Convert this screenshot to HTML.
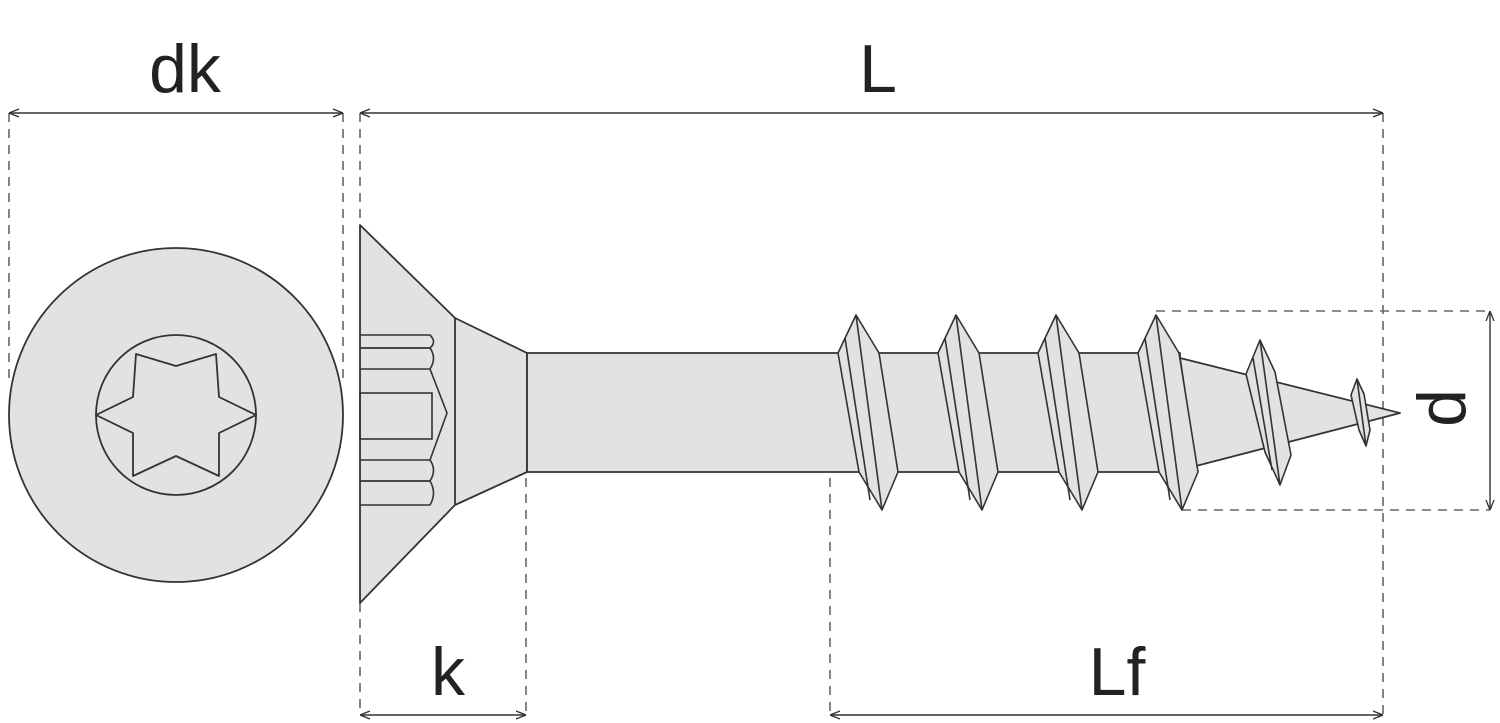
<!DOCTYPE html>
<html><head><meta charset="utf-8"><style>
html,body{margin:0;padding:0;background:#fff;}
svg{display:block;}
text{font-family:"Liberation Sans",sans-serif;fill:#222;}
</style></head><body>
<svg width="1500" height="723" viewBox="0 0 1500 723" xmlns="http://www.w3.org/2000/svg">
<defs>
<marker id="a" viewBox="0 0 10 10" refX="10" refY="5" markerWidth="10" markerHeight="10" orient="auto-start-reverse" markerUnits="userSpaceOnUse"><path d="M0,1 L10,5 L0,9" fill="none" stroke="#333" stroke-width="1.3"/></marker>
</defs>
<g stroke="#666" stroke-width="1.6" stroke-dasharray="9,7" fill="none">
<line x1="9" y1="113" x2="9" y2="383"/>
<line x1="343" y1="113" x2="343" y2="383"/>
<line x1="360" y1="113" x2="360" y2="225"/>
<line x1="360" y1="603" x2="360" y2="715"/>
<line x1="526" y1="478" x2="526" y2="715"/>
<line x1="830" y1="478" x2="830" y2="715"/>
<line x1="1383" y1="113" x2="1383" y2="715"/>
<line x1="1156" y1="311" x2="1490" y2="311"/>
<line x1="1182" y1="510" x2="1490" y2="510"/>
</g>
<g stroke="#333" stroke-width="1.4" fill="none">
<line x1="9" y1="113" x2="343" y2="113" marker-start="url(#a)" marker-end="url(#a)"/>
<line x1="360" y1="113" x2="1383" y2="113" marker-start="url(#a)" marker-end="url(#a)"/>
<line x1="360" y1="715" x2="526" y2="715" marker-start="url(#a)" marker-end="url(#a)"/>
<line x1="830" y1="715" x2="1383" y2="715" marker-start="url(#a)" marker-end="url(#a)"/>
<line x1="1490" y1="311" x2="1490" y2="510" marker-start="url(#a)" marker-end="url(#a)"/>
</g>
<g stroke="#333" stroke-width="1.8" fill="#e2e2e2" stroke-linejoin="round">
<circle cx="176" cy="415" r="167"/>
<circle cx="176" cy="415" r="80"/>
<polygon points="256,415 219,433 219,476 176,456 133,476 133,433 96,415 133,397 136,354 176,366 216,354 219,397"/>
<polygon points="360,225 455,318 527,353 527,472 455,505 360,603"/>
<line x1="455" y1="318" x2="455" y2="505"/>
<rect x="527" y="353" width="653" height="119"/>
<polygon points="1180,358 1400,413 1196,466"/>
</g>
<g stroke="#333" stroke-width="1.6" fill="none">
<path d="M360,335 H430 Q437,342 430,348 H360"/>
<path d="M360,348 H430 Q437,358 430,369 H360"/>
<rect x="360" y="393" width="72" height="46"/>
<path d="M360,460 H430 Q437,470 430,481 H360"/>
<path d="M360,481 H430 Q437,493 430,505 H360"/>
<path d="M430,369 L447,413 L430,460"/>
</g>
<g stroke="#333" stroke-width="1.6" fill="#e2e2e2" stroke-linejoin="round">
<g id="t"><polygon points="838,353 856,315 879,353 898,472 882,510 859,472"/><line x1="856" y1="315" x2="882" y2="510"/><line x1="845" y1="338" x2="870" y2="500"/></g>
<use href="#t" x="100"/>
<use href="#t" x="200"/>
<use href="#t" x="300"/>
<polygon points="1246,374 1260,340 1275,372 1291,455 1280,485 1265,452"/>
<line x1="1260" y1="340" x2="1280" y2="485"/><line x1="1253" y1="358" x2="1272" y2="470"/>
<polygon points="1351,395 1357,379 1364,394 1370,430 1366,446 1359,430"/>
<line x1="1357" y1="379" x2="1366" y2="446"/>
</g>
<text x="185" y="92" font-size="68" text-anchor="middle">dk</text>
<text x="878" y="92" font-size="68" text-anchor="middle">L</text>
<text x="448" y="695" font-size="68" text-anchor="middle">k</text>
<text x="1117" y="695" font-size="68" text-anchor="middle">Lf</text>
<text x="0" y="0" font-size="68" text-anchor="middle" transform="translate(1465,408) rotate(-90)">d</text>
</svg>
</body></html>
